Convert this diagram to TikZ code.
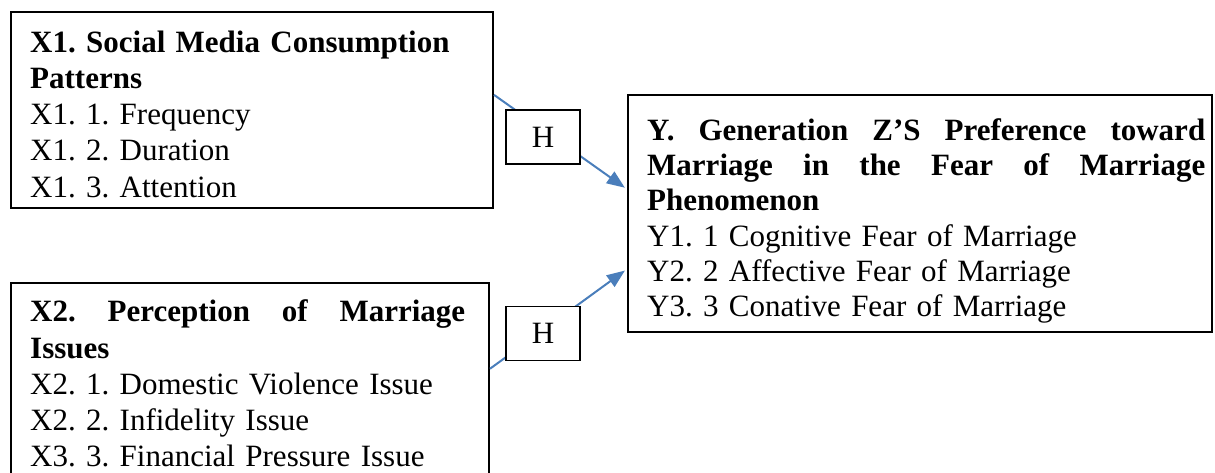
\documentclass[tikz,border=0pt]{standalone}
\usepackage{fontspec}
\setmainfont{Liberation Serif}
\usetikzlibrary{arrows.meta,calc}
\definecolor{arrowblue}{HTML}{4A7EBB}
\tikzset{
  boxframe/.style={draw=black, line width=2pt, inner sep=0pt, anchor=north west},
  boxtext/.style={anchor=north west, inner sep=0pt, align=left},
  hyplabel/.style={draw=black, line width=1.8pt, fill=white, minimum width=74pt,
    minimum height=54pt, inner sep=0pt, font=\fontsize{31}{36}\selectfont},
  link/.style={draw=arrowblue, line width=2pt, shorten >=2pt,
    -{Triangle[length=18pt,width=14pt]}},
}
\newcommand{\firstline}{\rule{0pt}{30pt}}
\newcommand{\fullline}[2]{\leavevmode\hbox to #1{\bfseries #2}}
\frenchspacing
\begin{document}
\frenchspacing
\begin{tikzpicture}[x=1pt,y=-1pt]
\useasboundingbox (0,0) rectangle (1215,472);
\clip (0,0) rectangle (1215,472);

% frames
\node[boxframe, minimum width=482pt, minimum height=196pt] (X1) at (10,10.5) {};
\node[boxframe, minimum width=478pt, minimum height=230pt] (X2) at (10,281.5) {};
\node[boxframe, minimum width=584.5pt, minimum height=237pt] (Y) at (626.5,94) {};

% texts
\node[boxtext, text width=460pt, font=\fontsize{31}{36.2}\selectfont\frenchspacing] (X1t) at (30,22) {%
\firstline\textbf{X1. Social Media Consumption}\\
\textbf{Patterns}\\
X1. 1. Frequency\\
X1. 2. Duration\\
X1. 3. Attention};

\node[boxtext, text width=440pt, font=\fontsize{31}{36.1}\selectfont\frenchspacing] (X2t) at (30,291.7) {%
\firstline\fullline{435pt}{X2.\hfill Perception\hfill of\hfill Marriage}\\
\textbf{Issues}\\
X2. 1. Domestic Violence Issue\\
X2. 2. Infidelity Issue\\
X3. 3. Financial Pressure Issue};

\node[boxtext, text width=560pt, font=\fontsize{31}{35.3}\selectfont\frenchspacing] (Yt) at (647,110) {%
\firstline\fullline{558pt}{Y.\hfill Generation\hfill Z’S\hfill Preference\hfill toward}\\
\fullline{558pt}{Marriage\hfill in\hfill the\hfill Fear\hfill of\hfill Marriage}\\
\textbf{Phenomenon}\\
Y1. 1 Cognitive Fear of Marriage\\
Y2. 2 Affective Fear of Marriage\\
Y3. 3 Conative Fear of Marriage};

% connectors
\coordinate (s1) at ($(X1.north east)!0.426!(X1.south east)$);
\coordinate (e1) at ($(Y.north west)!0.397!(Y.south west)$);
\coordinate (s2) at ($(X2.north east)!0.376!(X2.south east)$);
\coordinate (e2) at ($(Y.north west)!0.734!(Y.south west)$);
\draw[link] (s1) -- (e1);
\draw[link] (s2) -- (e2);

% hypothesis labels
\node[hyplabel] (H1) at (543,137) {H};
\node[hyplabel] (H2) at (543,333.5) {H};
\end{tikzpicture}
\end{document}
